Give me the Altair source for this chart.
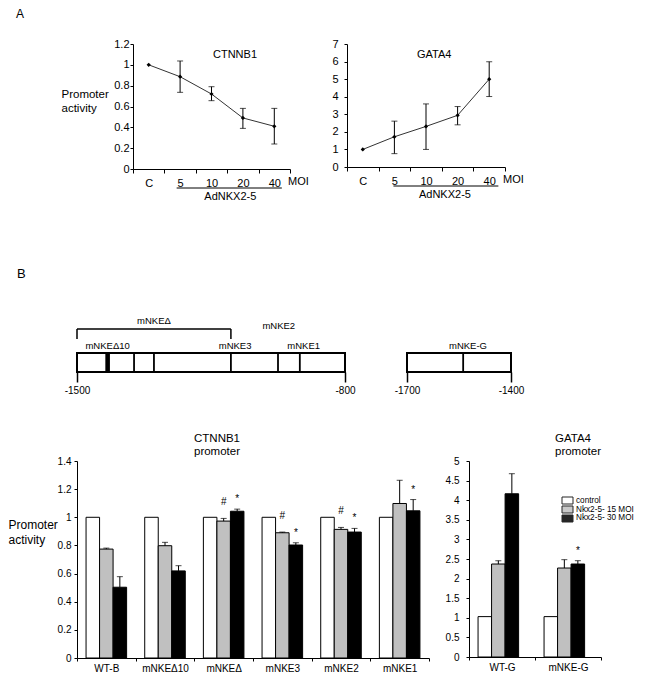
import altair as alt
import pandas as pd

FONT = "Liberation Sans"

# ---------------- Panel A: dose response ----------------
moi_levels = ["C", "5", "10", "20", "40"]
ctnnb1_a_mean = [1.0, 0.886, 0.72, 0.49, 0.41]
ctnnb1_a_low = [None, 0.736, 0.656, 0.39, 0.24]
ctnnb1_a_high = [None, 1.037, 0.79, 0.582, 0.582]
ctnnb1_a_ticks = [0, 0.2, 0.4, 0.6, 0.8, 1, 1.2]

gata4_a_mean = [1.0, 1.72, 2.31, 2.94, 5.0]
gata4_a_low = [None, 0.76, 1.0, 2.40, 4.01]
gata4_a_high = [None, 2.61, 3.59, 3.44, 5.99]
gata4_a_ticks = [0, 1, 2, 3, 4, 5, 6, 7]

virus_span = ["5", "40"]
virus_mid = "20"
virus_label = "AdNKX2-5"
moi_unit = "MOI"

# ---------------- Panel B: promoter maps ----------------
ctnnb1_map_span = [-1500, -800]
ctnnb1_map_dividers = [-1351, -1299, -1098, -975, -918]
ctnnb1_map_site = [-1426, -1414]
ctnnb1_map_deletion = [-1500, -1098]
ctnnb1_map_labels = ["mNKEΔ10", "mNKE3", "mNKE1"]
ctnnb1_map_label_bp = [-1420, -1087, -908]
ctnnb1_map_upper_labels = ["mNKEΔ", "mNKE2"]
ctnnb1_map_upper_bp = [-1299, -973]

gata4_map_span = [-1700, -1400]
gata4_map_dividers = [-1538]
gata4_map_labels = ["mNKE-G"]
gata4_map_label_bp = [-1524]

# ---------------- Panel B: reporter assays ----------------
treatments = ["control", "Nkx2-5- 15 MOI", "Nkx2-5- 30 MOI"]
treatment_colors = ["#ffffff", "#c0c0c0", "#000000"]

ctnnb1_constructs = ["WT-B", "mNKEΔ10", "mNKEΔ", "mNKE3", "mNKE2", "mNKE1"]
ctnnb1_control = [1.0, 1.0, 1.0, 1.0, 1.0, 1.0]
ctnnb1_moi15 = [0.774, 0.798, 0.973, 0.89, 0.914, 1.098]
ctnnb1_moi15_err = [0.007, 0.024, 0.019, 0.005, 0.014, 0.165]
ctnnb1_moi30 = [0.503, 0.619, 1.043, 0.803, 0.895, 1.046]
ctnnb1_moi30_err = [0.075, 0.037, 0.015, 0.016, 0.026, 0.08]
ctnnb1_moi15_sig = ["", "", "#", "#", "#", ""]
ctnnb1_moi30_sig = ["", "", "*", "*", "*", "*"]
ctnnb1_b_ticks = [0, 0.2, 0.4, 0.6, 0.8, 1, 1.2, 1.4]

gata4_constructs = ["WT-G", "mNKE-G"]
gata4_control = [1.03, 1.03]
gata4_moi15 = [2.372, 2.27]
gata4_moi15_err = [0.085, 0.213]
gata4_moi30 = [4.164, 2.372]
gata4_moi30_err = [0.512, 0.085]
gata4_moi15_sig = ["", ""]
gata4_moi30_sig = ["", "*"]
gata4_b_ticks = [0, 0.5, 1, 1.5, 2, 2.5, 3, 3.5, 4, 4.5, 5]


def line_panel(means, lows, highs, ticks, width, height, name, name_x, ylab_pad, ul_pos, ytitle):
    df = pd.DataFrame({"moi": moi_levels, "mean": means, "low": lows, "high": highs})
    xscale = alt.Scale(type="band", domain=moi_levels, paddingInner=0, paddingOuter=0)
    yscale = alt.Scale(domain=[0, ticks[-1]], nice=False)
    xaxis = alt.Axis(title=None, labelAngle=0, tickBand="extent", tickSize=4,
                     labelPadding=4, labelFontSize=11)
    ykw = dict(values=ticks, format=".1~f", tickSize=3, labelPadding=ylab_pad, labelFontSize=11)
    if ytitle:
        ykw.update(title=["Promoter", "activity"], titleAngle=0, titleAlign="left",
                   titleBaseline="alphabetic", titleX=-72, titleY=53, titleFontSize=11.5,
                   titleLineHeight=14)
    else:
        ykw.update(title=None)
    yaxis = alt.Axis(**ykw)
    base = alt.Chart(df)
    x = alt.X("moi:N", scale=xscale, axis=xaxis)
    line = base.mark_line(color="#333333", strokeWidth=1).encode(
        x=x, y=alt.Y("mean:Q", scale=yscale, axis=yaxis))
    err = base.transform_filter("isValid(datum.low)")
    whisk = err.mark_rule(color="black", strokeWidth=1).encode(
        x=x, y=alt.Y("low:Q", scale=yscale, axis=yaxis), y2="high:Q")
    caps = err.transform_fold(["low", "high"], as_=["end", "v"]).mark_tick(
        color="black", size=6, thickness=1, orient="horizontal").encode(
        x=x, y=alt.Y("v:Q", scale=yscale, axis=yaxis))
    pts = base.mark_point(shape="diamond", filled=True, size=18, color="black", opacity=1).encode(
        x=x, y=alt.Y("mean:Q", scale=yscale, axis=yaxis))
    ann = alt.Chart(pd.DataFrame({"a": [virus_span[0]], "b": [virus_span[1]], "mid": [virus_mid],
                                  "lab": [virus_label], "unit": [moi_unit], "name": [name]}))
    underline = ann.mark_rule(color="black", strokeWidth=1).encode(
        x=alt.X("a:N", scale=xscale, axis=xaxis, bandPosition=ul_pos[0]),
        x2=alt.X2("b:N", bandPosition=ul_pos[1]),
        y=alt.value(height + 19))
    label = ann.mark_text(fontSize=11, baseline="middle", align="center", color="black").encode(
        x=alt.X("mid:N", scale=xscale, axis=xaxis, bandPosition=0.1),
        y=alt.value(height + 27.5), text="lab:N")
    unit = ann.mark_text(fontSize=11, baseline="middle", align="left", color="black").encode(
        x=alt.value(width - 2), y=alt.value(height + 13), text="unit:N")
    title = ann.mark_text(fontSize=11, baseline="alphabetic", align="left", color="black").encode(
        x=alt.value(name_x), y=alt.value(14), text="name:N")
    return alt.layer(line, whisk, caps, pts, underline, label, unit, title).properties(
        width=width, height=height)


def long_table(constructs, ctrl, m15, e15, m30, e30, s15, s30):
    rows = []
    for i, c in enumerate(constructs):
        rows.append(dict(construct=c, treatment=treatments[0], value=ctrl[i], err=None, sig=""))
        rows.append(dict(construct=c, treatment=treatments[1], value=m15[i], err=e15[i], sig=s15[i]))
        rows.append(dict(construct=c, treatment=treatments[2], value=m30[i], err=e30[i], sig=s30[i]))
    return pd.DataFrame(rows)


def bar_panel(df, constructs, ticks, width, height, title_lines, title_dx, ylab_pad, pad_outer,
              with_legend, ytitle):
    xscale = alt.Scale(domain=constructs, paddingInner=0, paddingOuter=0)
    oscale = alt.Scale(domain=treatments, paddingInner=0, paddingOuter=pad_outer)
    yscale = alt.Scale(domain=[0, ticks[-1]], nice=False)
    cscale = alt.Scale(domain=treatments, range=treatment_colors)
    x = alt.X("construct:N", scale=xscale, sort=constructs,
              axis=alt.Axis(title=None, labelAngle=0, tickBand="extent", tickSize=3,
                            labelPadding=2, labelFontSize=10))
    xo = alt.XOffset("treatment:N", scale=oscale, sort=treatments)
    ykw = dict(values=ticks, format=".1~f", tickSize=3, labelPadding=ylab_pad, labelFontSize=10)
    if ytitle:
        ykw.update(title=["Promoter", "activity"], titleAngle=0, titleAlign="left",
                   titleBaseline="alphabetic", titleX=-69, titleY=67, titleFontSize=12,
                   titleLineHeight=15)
    else:
        ykw.update(title=None)
    yaxis = alt.Axis(**ykw)
    base = alt.Chart(df)
    bars = base.mark_bar(stroke="black", strokeWidth=1).encode(
        x=x, xOffset=xo,
        y=alt.Y("value:Q", scale=yscale, axis=yaxis),
        color=alt.Color("treatment:N", sort=treatments, scale=cscale, legend=None))
    err = base.transform_filter("isValid(datum.err)").transform_calculate(
        top="datum.value + datum.err")
    whisk = err.mark_rule(color="black", strokeWidth=1).encode(
        x=x, xOffset=xo, y=alt.Y("value:Q", scale=yscale, axis=yaxis), y2="top:Q")
    caps = err.mark_tick(color="black", size=6, thickness=1, orient="horizontal").encode(
        x=x, xOffset=xo, y=alt.Y("top:Q", scale=yscale, axis=yaxis))
    hash_t = err.transform_filter("datum.sig == '#'").mark_text(
        fontSize=10, baseline="alphabetic", dy=-13, color="black").encode(
        x=x, xOffset=xo, y=alt.Y("top:Q", scale=yscale, axis=yaxis), text="sig:N")
    star_t = err.transform_filter("datum.sig == '*'").mark_text(
        fontSize=10, baseline="alphabetic", dy=-7, color="black").encode(
        x=x, xOffset=xo, y=alt.Y("top:Q", scale=yscale, axis=yaxis), text="sig:N")
    plot = alt.layer(bars, whisk, caps, hash_t, star_t)
    if with_legend:
        leg_df = pd.DataFrame({"treatment": treatments})
        leg_y = alt.Y("treatment:N", sort=treatments,
                      scale=alt.Scale(type="band", domain=treatments, range=[36, 61],
                                      paddingInner=0.22, paddingOuter=0), axis=None)
        swatch = alt.Chart(leg_df).mark_rect(stroke="black", strokeWidth=1, opacity=0.85).encode(
            x=alt.value(93), x2=alt.value(104), y=leg_y,
            color=alt.Color("treatment:N", sort=treatments, scale=cscale, legend=None))
        names = alt.Chart(leg_df).mark_text(align="left", baseline="middle", fontSize=8.2,
                                            color="black").encode(
            x=alt.value(107), y=leg_y, text="treatment:N")
        plot = alt.layer(plot, alt.layer(swatch, names)).resolve_scale(y="independent")
    return plot.properties(
        width=width, height=height,
        title=alt.TitleParams(text=title_lines, anchor="start", frame="group", dx=title_dx,
                              fontSize=11.5, lineHeight=12.5, offset=-1, fontWeight="normal"))


def map_panel(span, dividers, labels, label_bp, width, site=None, deletion=None,
              upper_labels=None, upper_bp=None, letter=None):
    xscale = alt.Scale(domain=span, nice=False, zero=False)
    yscale = alt.Scale(domain=[0, 3], nice=False, zero=True)
    xaxis = alt.Axis(values=span, domain=False, grid=False, ticks=True, tickSize=10, tickWidth=1.5,
                     labelPadding=3, labelFontSize=10, title=None, labelFlush=False,
                     labelOverlap=False, labelExpr="'-' + abs(datum.value)")
    box = alt.Chart(pd.DataFrame({"s": [span[0]], "e": [span[1]]})).mark_rect(
        fill="white", stroke="black", strokeWidth=2).encode(
        x=alt.X("s:Q", scale=xscale, axis=xaxis), x2="e:Q",
        y=alt.Y(datum=0, scale=yscale, axis=None), y2=alt.Y2(datum=1))
    layers = [box]
    layers.append(alt.Chart(pd.DataFrame({"p": dividers})).mark_rule(
        color="black", strokeWidth=1.8).encode(
        x=alt.X("p:Q", scale=xscale, axis=xaxis),
        y=alt.Y(datum=0, scale=yscale, axis=None), y2=alt.Y2(datum=1)))
    if site is not None:
        layers.append(alt.Chart(pd.DataFrame({"s": [site[0]], "e": [site[1]]})).mark_rect(
            color="black").encode(
            x=alt.X("s:Q", scale=xscale, axis=xaxis), x2="e:Q",
            y=alt.Y(datum=0, scale=yscale, axis=None), y2=alt.Y2(datum=1)))
    if deletion is not None:
        dd = pd.DataFrame({"s": [deletion[0]], "e": [deletion[1]]})
        layers.append(alt.Chart(dd).mark_rule(color="black", strokeWidth=1.5).encode(
            x=alt.X("s:Q", scale=xscale, axis=xaxis), x2="e:Q",
            y=alt.Y(datum=2.26, scale=yscale, axis=None)))
        layers.append(alt.Chart(pd.DataFrame({"p": deletion})).mark_rule(
            color="black", strokeWidth=1.5).encode(
            x=alt.X("p:Q", scale=xscale, axis=xaxis),
            y=alt.Y(datum=1.74, scale=yscale, axis=None), y2=alt.Y2(datum=2.26)))
    layers.append(alt.Chart(pd.DataFrame({"lab": labels, "p": label_bp})).mark_text(
        fontSize=9.5, baseline="middle", color="black").encode(
        x=alt.X("p:Q", scale=xscale, axis=xaxis),
        y=alt.Y(datum=1.39, scale=yscale, axis=None), text="lab:N"))
    if upper_labels is not None:
        lv = [2.68, 2.42]
        layers.append(alt.Chart(pd.DataFrame({"lab": upper_labels, "p": upper_bp, "lv": lv})).mark_text(
            fontSize=9.5, baseline="middle", color="black").encode(
            x=alt.X("p:Q", scale=xscale, axis=xaxis),
            y=alt.Y("lv:Q", scale=yscale, axis=None), text="lab:N"))
    if letter is not None:
        layers.append(alt.Chart(pd.DataFrame({"t": [letter]})).mark_text(
            fontSize=13, align="left", baseline="alphabetic", color="black").encode(
            x=alt.value(-60), y=alt.value(-37), text="t:N"))
    return alt.layer(*layers).properties(width=width, height=57)


a1 = line_panel(ctnnb1_a_mean, ctnnb1_a_low, ctnnb1_a_high, ctnnb1_a_ticks, 157, 125,
                "CTNNB1", 80, 1, (0.39, 0.74), True)
a2 = line_panel(gata4_a_mean, gata4_a_low, gata4_a_high, gata4_a_ticks, 158, 123,
                "GATA4", 70, 6, (0.47, 0.79), False)

spacer = alt.Chart(pd.DataFrame({"t": ["A"]})).mark_text(
    fontSize=12, align="left", baseline="alphabetic", color="black").encode(
    x=alt.value(-61), y=alt.value(-26), text="t:N").properties(width=56, height=125)

row_a = alt.hconcat(spacer, alt.hconcat(a1, a2, spacing=57, bounds="flush"),
                    spacing=0, bounds="flush")

d1 = map_panel(ctnnb1_map_span, ctnnb1_map_dividers, ctnnb1_map_labels, ctnnb1_map_label_bp, 268,
               site=ctnnb1_map_site, deletion=ctnnb1_map_deletion,
               upper_labels=ctnnb1_map_upper_labels, upper_bp=ctnnb1_map_upper_bp, letter="B")
d2 = map_panel(gata4_map_span, gata4_map_dividers, gata4_map_labels, gata4_map_label_bp, 104)
row_d = alt.hconcat(d1, d2, spacing=62, bounds="flush")

ctnnb1_df = long_table(ctnnb1_constructs, ctnnb1_control, ctnnb1_moi15, ctnnb1_moi15_err,
                       ctnnb1_moi30, ctnnb1_moi30_err, ctnnb1_moi15_sig, ctnnb1_moi30_sig)
gata4_df = long_table(gata4_constructs, gata4_control, gata4_moi15, gata4_moi15_err,
                      gata4_moi30, gata4_moi30_err, gata4_moi15_sig, gata4_moi30_sig)

b1 = bar_panel(ctnnb1_df, ctnnb1_constructs, ctnnb1_b_ticks, 352, 197, ["CTNNB1", "promoter"],
               117, 3, 0.67, False, True)
b2 = bar_panel(gata4_df, gata4_constructs, gata4_b_ticks, 132, 196, ["GATA4", "promoter"],
               86, 7, 0.78, True, False)
row_b = alt.hconcat(b1, b2, spacing=40, bounds="flush").resolve_scale(color="independent")

# nested concat children have zero flush size, so spacing = origin-to-origin distance
lower = alt.vconcat(row_d, row_b, spacing=146, bounds="flush")

chart = alt.vconcat(row_a, lower, spacing=271, bounds="flush").properties(
    padding=0
).configure(font=FONT).configure_view(stroke=None).configure_axis(
    grid=False, domainColor="black", tickColor="black", labelColor="black",
    titleColor="black", domainWidth=1, tickWidth=1, titleFontWeight="normal",
    labelFont=FONT, titleFont=FONT
).configure_title(color="black", font=FONT).configure_text(color="black", font=FONT)

chart.save("out.html", embed_options={"renderer": "svg", "actions": False})
